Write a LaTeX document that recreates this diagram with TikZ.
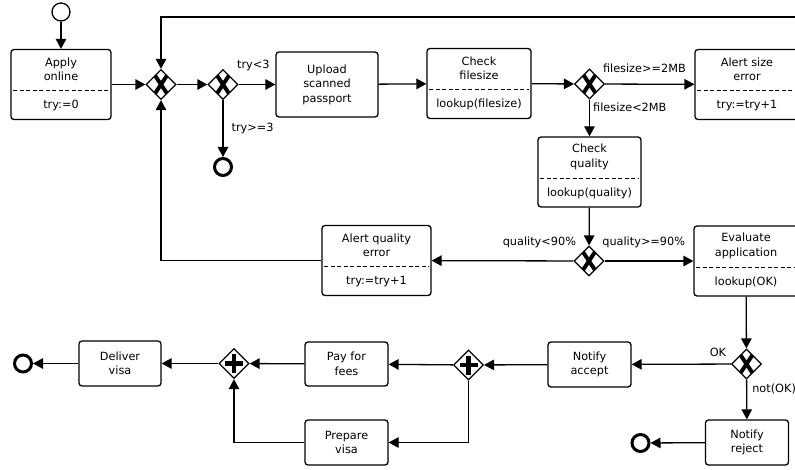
\documentclass[tikz,border=0pt]{standalone}
\usepackage{fontspec}
\setmainfont{DejaVu Sans}
\usetikzlibrary{arrows.meta,shapes.geometric,positioning}

\begin{document}
\begin{tikzpicture}[x=1pt,y=-1pt,
  every node/.style={font=\fontsize{11.3}{14.5}\selectfont},
  task/.style={draw,rounded corners=3pt,line width=1.3pt,align=center,inner sep=0pt},
  txt/.style={align=center,inner sep=0pt},
  divider/.style={line width=1.3pt,dash pattern=on 4pt off 2.5pt},
  gate/.style={draw,diamond,line width=1.3pt,minimum size=30pt,inner sep=0pt,fill=white},
  xorgate/.style={gate,path picture={
    \draw[line width=4pt] (path picture bounding box.center) +(-6,-9) -- +(6,9)
      (path picture bounding box.center) +(-6,9) -- +(6,-9);}},
  andgate/.style={gate,path picture={
    \draw[line width=4.5pt] (path picture bounding box.center) +(-9,0) -- +(9,0)
      (path picture bounding box.center) +(0,-9.5) -- +(0,9.5);}},
  startev/.style={draw,circle,line width=1.3pt,minimum size=18pt,inner sep=0pt},
  endev/.style={draw,circle,line width=3pt,minimum size=17pt,inner sep=0pt},
  flow/.style={line width=1.3pt,-{Triangle[length=10pt,width=10.5pt]}},
  lbl/.style={inner sep=0pt}]
\useasboundingbox (0,0) rectangle (795,470);
\clip (0,0) rectangle (795,470);

% tasks with a data part
\foreach \n/\x/\y/\w/\up/\lo in {
  apply/61/84.5/100/{Apply\\online}/{try:=0},
  checkfs/479/83.5/104/{Check\\filesize}/{lookup(filesize)},
  alertsize/747/84.5/104/{Alert size\\error}/{try:=try+1},
  checkq/589.5/172/103/{Check\\quality}/{lookup(quality)},
  alertq/376.5/260.5/109/{Alert quality\\error}/{try:=try+1},
  evaluate/746/261/104/{Evaluate\\application}/{lookup(OK)}}
{
  \node[task,minimum width=\w pt,minimum height=70pt] (\n) at (\x,\y) {};
  \node[txt] (\n-up) at ([yshift=-20.5pt]\n.north) {\up};
  \draw[divider] ([shift={(3pt,-42pt)}]\n.north west) -- ([shift={(-3pt,-42pt)}]\n.north east);
  \node[txt] (\n-lo) at ([yshift=-57pt]\n.north) {\lo};
}

% plain tasks
\foreach \n/\x/\y/\w/\h/\t in {
  upload/327/84.5/102/65/{Upload\\scanned\\passport},
  notifyacc/589.5/364.5/83/45/{Notify\\accept},
  notifyrej/747/442.5/83/45/{Notify\\reject},
  payfees/346.5/364/83/44/{Pay for\\fees},
  prepare/346.5/442.5/83/45/{Prepare\\visa},
  deliver/120/363.5/82/45/{Deliver\\visa}}
  \node[task,minimum width=\w pt,minimum height=\h pt] (\n) at (\x,\y) {\t};

% gateways
\node[xorgate] (x1) at (161,84.5) {};
\node[xorgate] (x2) at (223,84.5) {};
\node[xorgate] (x3) at (589.5,84) {};
\node[xorgate] (x4) at (589,261) {};
\node[xorgate] (x5) at (746.5,364) {};
\node[andgate] (p1) at (468.5,365) {};
\node[andgate] (p2) at (234,363.5) {};

% events
\node[startev] (s0) at (61,12) {};
\node[endev] (e1) at (223,167) {};
\node[endev] (e2) at (640.5,443) {};
\node[endev] (e3) at (23,363.5) {};
\coordinate (back) at (812,17);

% flows
\draw[flow] (s0) -- (apply);
\draw[flow] (apply) -- (x1);
\draw[flow] (x1) -- (x2);
\draw[flow] (x2) -- node[lbl,above=13pt,pos=0.4] {try<3} (upload);
\draw[flow] (x2) -- node[lbl,right=8pt] {try>=3} (e1);
\draw[flow] (upload) -- (checkfs);
\draw[flow] (checkfs) -- (x3);
\draw[flow] (x3) -- node[lbl,above=11pt,pos=0.44] {filesize>=2MB} (alertsize);
\draw[flow] (x3) -- node[lbl,right=3pt,pos=0.22] {filesize<2MB} (checkq);
\draw[flow] (alertsize) -| (back) -| (x1);
\draw[flow] (checkq) -- (x4);
\draw[flow] (x4) -- node[lbl,above=12pt,pos=0.24] {quality<90\%} (alertq);
\draw[flow] (x4) -- node[lbl,above=12pt,pos=0.44] {quality>=90\%} (evaluate);
\draw[flow] (alertq) -| (x1);
\draw[flow] (evaluate) -- (x5);
\draw[flow] (x5) -- node[lbl,above=7pt,pos=0.13] {OK} (notifyacc);
\draw[flow] (x5) -- node[lbl,right=5pt,pos=0.24] {not(OK)} (notifyrej);
\draw[flow] (notifyrej) -- (e2);
\draw[flow] (notifyacc) -- (p1);
\draw[flow] (p1) -- (payfees);
\draw[flow] (p1) |- (prepare);
\draw[flow] (payfees) -- (p2);
\draw[flow] (prepare) -| (p2);
\draw[flow] (p2) -- (deliver);
\draw[flow] (deliver) -- (e3);
\end{tikzpicture}
\end{document}
